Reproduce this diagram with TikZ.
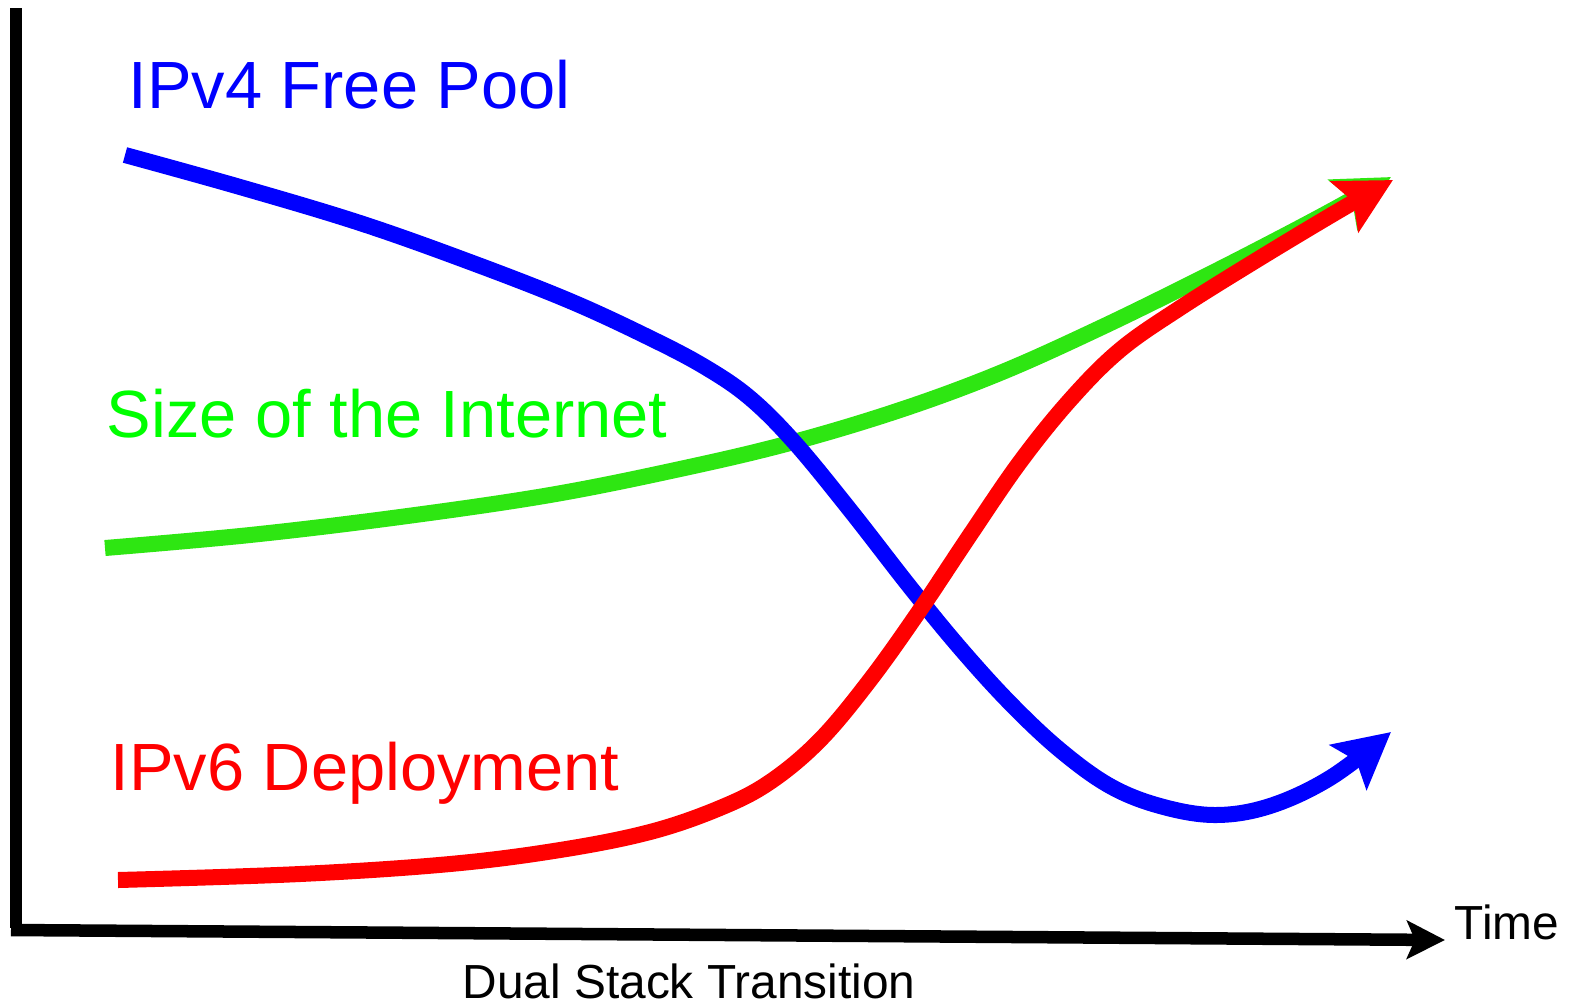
\documentclass[tikz,border=0pt]{standalone}
\usepackage{fontspec}
\setmainfont{Liberation Sans}
\usetikzlibrary{arrows.meta}
\definecolor{netgreen}{HTML}{2EE612}
\definecolor{labelgreen}{HTML}{00FF00}

\begin{document}
\begin{tikzpicture}[x=0.01cm,y=-0.01cm,
  curve/.style={line width=0.16cm,-{Stealth[length=0.55cm,width=0.57cm,inset=0.1cm]}},
  axis/.style={line width=0.125cm},
  biglabel/.style={anchor=base west,inner sep=0pt,font=\fontsize{19}{22}\selectfont},
  smalllabel/.style={anchor=base west,inner sep=0pt,font=\fontsize{13.6}{16}\selectfont}]
  \useasboundingbox (0,0) rectangle (1569,1005);

  \coordinate (ytop) at (16,8);
  \coordinate (ybottom) at (16,928);
  \coordinate (xleft) at (11,930);
  \coordinate (xright) at (1445,940);
  \draw[axis] (ytop) -- (ybottom);
  \draw[axis,-{Stealth[length=0.38cm,width=0.38cm,inset=0.08cm]}] (xleft) -- (xright);

  \draw[curve,netgreen] plot[smooth,tension=0.6] coordinates {(105,548) (250,535) (400,517) (550,495) (680,469) (790,443) (900,410) (1000,373) (1100,328) (1200,279) (1280,238) (1340,206) (1391,177)};
  \draw[curve,blue] plot[smooth,tension=0.6] coordinates {(125,155) (240,187) (360,223) (470,262) (570,301) (650,338) (705,367) (750,398) (795,443) (850,510) (910,587) (960,648) (1010,703) (1060,750) (1110,786) (1160,806) (1215,815) (1270,806) (1330,778) (1391,732)};
  \draw[curve,red] plot[smooth,tension=0.6] coordinates {(118,880) (300,874) (450,864) (560,850) (650,832) (720,808) (770,782) (820,740) (870,680) (920,610) (970,535) (1020,462) (1070,400) (1120,350) (1180,308) (1260,258) (1340,210) (1393,180)};

  \node[biglabel,blue] (freepool) at (128,108) {IPv4 Free Pool};
  \node[biglabel,labelgreen] (netsize) at (106,437) {Size of the Internet};
  \node[biglabel,red] (deploy) at (110,790) {IPv6 Deployment};
  \node[smalllabel] (time) at (1454,939) {Time};
  \node[smalllabel] (dualstack) at (462,998) {Dual Stack Transition};
\end{tikzpicture}
\end{document}
